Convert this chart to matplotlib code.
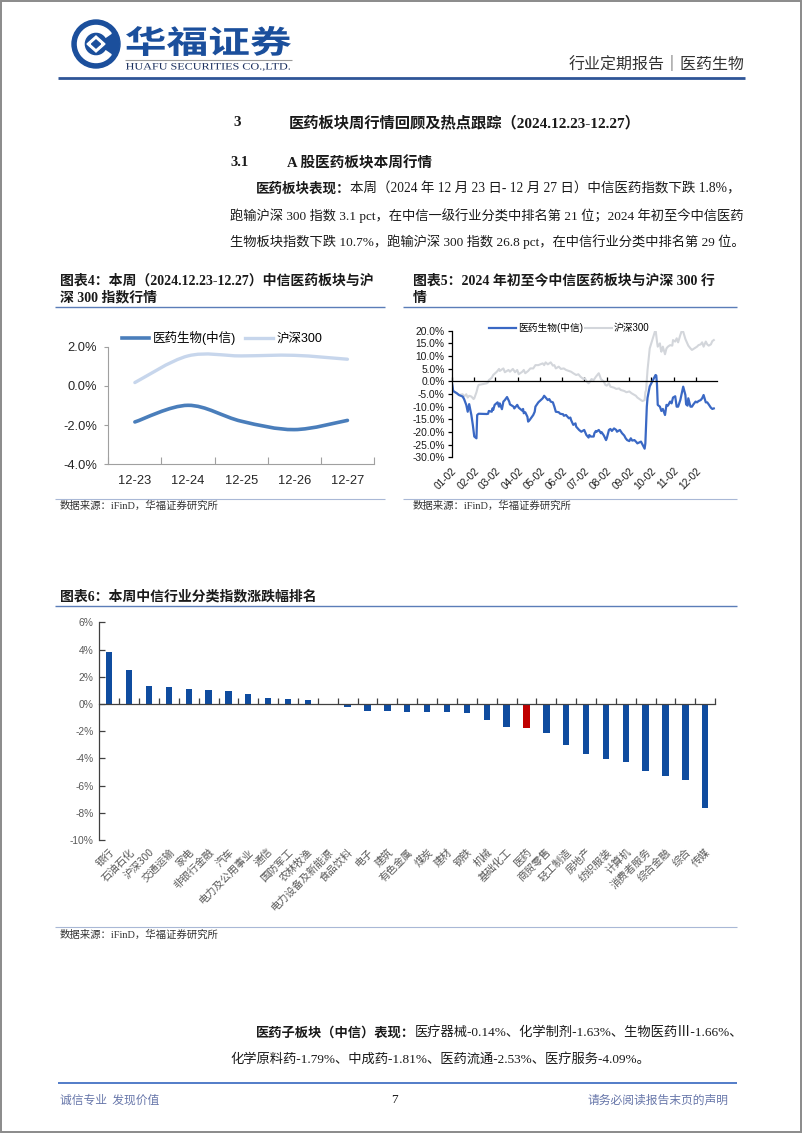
import matplotlib
matplotlib.use('Agg')
import matplotlib.pyplot as plt
import matplotlib.dates as mdates
import numpy as np
import pandas as pd
from matplotlib.patches import Circle, Wedge, Polygon, Rectangle, PathPatch
from matplotlib.textpath import TextPath
from matplotlib.font_manager import FontProperties
from matplotlib.transforms import Affine2D
from matplotlib.path import Path
from matplotlib.lines import Line2D
from matplotlib.ticker import FuncFormatter

W, H = 802, 1133
SANS = ['Liberation Sans', 'Noto Sans CJK SC']
SERIF = ['Liberation Serif', 'Noto Sans CJK SC']
CJK = ['Noto Sans CJK SC', 'DejaVu Sans']
plt.rcParams['font.family'] = SANS
plt.rcParams['axes.unicode_minus'] = False

# ---------------- data ----------------
week_days = ['12-23', '12-24', '12-25', '12-26', '12-27']
week_med = [-1.84, -0.99, -1.80, -2.23, -1.76]
week_hs300 = [0.17, 1.53, 1.53, 1.56, 1.36]
week_names = ['医药生物(中信)', '沪深300']

ytd_med_dates = ['01-02', '01-04', '01-09', '01-12', '01-17', '01-19', '01-22', '01-24', '01-26', '01-29',
                 '01-31', '02-02', '02-05', '02-06', '02-08', '02-19', '02-21', '02-22', '02-26', '02-27',
                 '02-28', '03-01', '03-05', '03-07', '03-08', '03-11', '03-13', '03-15', '03-18', '03-21',
                 '03-22', '03-27', '03-28', '04-01', '04-03', '04-08', '04-09', '04-10', '04-12', '04-15',
                 '04-16', '04-18', '04-19', '04-23', '04-25', '04-26', '04-30', '05-06', '05-08', '05-10',
                 '05-13', '05-15', '05-17', '05-20', '05-22', '05-24', '05-28', '05-30', '06-03', '06-04',
                 '06-07', '06-11', '06-13', '06-14', '06-17', '06-20', '06-21', '06-25', '06-28', '07-02',
                 '07-05', '07-08', '07-09', '07-11', '07-15', '07-16', '07-18', '07-19', '07-22', '07-25',
                 '07-26', '07-29', '08-01', '08-02', '08-05', '08-07', '08-09', '08-12', '08-15', '08-16',
                 '08-20', '08-23', '08-26', '08-28', '08-30', '09-02', '09-04', '09-06', '09-09', '09-12',
                 '09-13', '09-18', '09-20', '09-23', '09-24', '09-25', '09-26', '09-27', '09-30', '10-08',
                 '10-09', '10-10', '10-11', '10-14', '10-16', '10-18', '10-21', '10-23', '10-25', '10-28',
                 '10-30', '11-01', '11-04', '11-06', '11-08', '11-11', '11-13', '11-15', '11-18', '11-19',
                 '11-21', '11-22', '11-25', '11-27', '11-29', '12-02', '12-04', '12-06', '12-09', '12-11',
                 '12-13', '12-16', '12-18', '12-20', '12-23', '12-25', '12-27']
ytd_med = [0.0, -3.8, -4.7, -5.4, -6.0, -7.0, -9.3, -12.0, -9.0, -13.3,
           -17.2, -21.8, -22.5, -13.3, -12.8, -12.9, -12.8, -11.7, -12.0, -10.7,
           -11.3, -9.3, -8.3, -10.0, -8.7, -11.0, -8.0, -7.4, -6.2, -8.0,
           -9.1, -10.0, -10.7, -9.3, -10.4, -11.6, -10.9, -12.6, -12.2, -14.0,
           -15.9, -15.3, -14.9, -13.3, -12.0, -10.0, -8.3, -6.7, -5.7, -6.4,
           -7.4, -7.0, -8.0, -8.3, -10.0, -12.0, -12.2, -12.8, -13.0, -13.6,
           -13.3, -14.6, -14.3, -15.3, -17.2, -16.6, -17.9, -19.2, -19.9, -19.2,
           -21.2, -22.2, -21.2, -21.8, -21.8, -20.5, -19.6, -19.9, -19.2, -20.5,
           -20.1, -21.4, -23.2, -22.5, -19.2, -18.8, -19.6, -18.6, -19.2, -19.9,
           -19.2, -20.5, -21.4, -22.5, -23.2, -23.6, -22.5, -23.4, -23.2, -24.1,
           -24.5, -23.8, -24.9, -26.6, -24.5, -17.0, -10.0, -6.5, -2.0, 2.5,
           2.3, -1.4, -9.3, -10.0, -11.7, -10.9, -13.3, -9.3, -9.6, -8.0,
           -8.7, -6.4, -5.9, -10.0, -10.0, -7.4, -4.7, -2.1, -5.4, -9.1,
           -9.6, -6.7, -10.0, -10.0, -9.1, -8.0, -8.3, -7.8, -7.4, -6.7,
           -5.4, -8.3, -8.3, -9.1, -10.4, -10.9, -10.7]

ytd_hs_dates = ['01-02', '01-04', '01-09', '01-12', '01-17', '01-19', '01-22', '01-24', '01-26', '01-29',
                '02-01', '02-02', '02-05', '02-07', '02-08', '02-19', '02-21', '02-22', '02-26', '02-28',
                '03-04', '03-07', '03-08', '03-13', '03-15', '03-20', '03-22', '03-26', '03-29', '04-01',
                '04-03', '04-08', '04-10', '04-12', '04-16', '04-19', '04-23', '04-26', '04-30', '05-06',
                '05-08', '05-10', '05-13', '05-17', '05-20', '05-22', '05-24', '05-28', '05-31', '06-04',
                '06-07', '06-11', '06-14', '06-17', '06-21', '06-24', '06-27', '07-01', '07-03', '07-05',
                '07-08', '07-10', '07-12', '07-15', '07-18', '07-22', '07-23', '07-25', '07-29', '07-31',
                '08-02', '08-05', '08-07', '08-12', '08-15', '08-19', '08-21', '08-26', '08-29', '09-02',
                '09-05', '09-09', '09-11', '09-13', '09-18', '09-20', '09-23', '09-24', '09-25', '09-26',
                '09-27', '09-30', '10-08', '10-09', '10-10', '10-11', '10-14', '10-15', '10-16', '10-18',
                '10-21', '10-23', '10-25', '10-28', '10-31', '11-01', '11-04', '11-06', '11-08', '11-11',
                '11-13', '11-15', '11-18', '11-20', '11-22', '11-25', '11-27', '12-02', '12-04', '12-06',
                '12-09', '12-11', '12-13', '12-16', '12-18', '12-20', '12-23', '12-25', '12-27']
ytd_hs = [0.0, -4.0, -4.7, -5.4, -5.1, -6.0, -5.1, -6.4, -5.7, -6.0,
          -7.0, -6.7, -4.3, -2.1, -1.4, -0.8, -0.4, 0.5, 1.4, 2.5,
          3.8, 4.9, 4.1, 5.1, 3.6, 4.5, 3.8, 4.9, 3.6, 4.5,
          2.8, 3.8, 4.5, 3.2, 4.1, 5.1, 5.1, 6.4, 6.4, 7.1,
          6.4, 7.5, 6.7, 7.5, 6.2, 6.4, 5.1, 5.8, 4.9, 5.1,
          4.5, 4.1, 3.8, 3.2, 2.5, 2.8, 1.8, 0.9, 1.2, 0.1,
          -0.8, -0.1, 0.9, 0.5, 1.8, 3.2, 2.5, 0.9, -0.1, -1.4,
          -1.7, -0.8, -2.1, -2.5, -3.0, -2.8, -3.4, -3.8, -4.3, -4.0,
          -4.7, -5.4, -5.7, -6.4, -7.4, -7.8, -7.4, -4.3, -3.5, 0.5,
          4.5, 13.0, 20.5, 18.0, 15.7, 13.7, 15.0, 13.0, 11.7, 13.7,
          10.7, 13.0, 13.7, 14.3, 14.1, 16.3, 15.7, 17.0, 15.4, 18.3,
          19.9, 19.6, 16.7, 15.4, 14.1, 13.0, 12.4, 13.3, 13.7, 14.3,
          14.6, 15.4, 13.7, 15.7, 14.6, 14.1, 14.6, 15.9, 16.3]
ytd_tick_days = ['01-02', '02-02', '03-02', '04-02', '05-02', '06-02',
                 '07-02', '08-02', '09-02', '10-02', '11-02', '12-02']

ind_names = ['银行', '石油石化', '沪深300', '交通运输', '家电', '非银行金融', '汽车', '电力及公用事业',
             '通信', '国防军工', '农林牧渔', '电力设备及新能源', '食品饮料', '电子', '建筑', '有色金属',
             '煤炭', '建材', '钢铁', '机械', '基础化工', '医药', '商贸零售', '轻工制造', '房地产',
             '纺织服装', '计算机', '消费者服务', '综合金融', '综合', '传媒']
ind_chg = [3.85, 2.50, 1.35, 1.22, 1.10, 1.05, 0.98, 0.74, 0.47, 0.34, 0.27, -0.02, -0.25, -0.49,
           -0.54, -0.56, -0.61, -0.61, -0.66, -1.15, -1.69, -1.78, -2.13, -3.01, -3.68, -4.02,
           -4.24, -4.93, -5.32, -5.61, -7.62]
highlight = '医药'

# ---------------- figure / page ----------------
fig = plt.figure(figsize=(W / 100, H / 100), dpi=100)
page = fig.add_axes([0, 0, 1, 1])
page.set_xlim(0, W)
page.set_ylim(H, 0)
page.axis('off')
renderer = fig.canvas.get_renderer()


def rect(x0, y0, x1, y1):
    return [x0 / W, 1 - y1 / H, (x1 - x0) / W, (y1 - y0) / H]


def hline(y, x0, x1, color, lw):
    page.plot([x0, x1], [y, y], color=color, lw=lw, solid_capstyle='butt')


def stretched_text(s, x0, y0, x1, y1, prop, color):
    tp = TextPath((0, 0), s, size=1, prop=prop)
    ext = tp.get_extents()
    tr = (Affine2D().translate(-ext.x0, -ext.y0)
          .scale((x1 - x0) / ext.width, -(y1 - y0) / ext.height)
          .translate(x0, y1))
    page.add_patch(PathPatch(tr.transform_path(tp), fc=color, ec='none'))


# page frame
page.add_patch(Rectangle((0.8, 0.8), W - 1.6, H - 1.6, fill=False, ec='#8a8a8a', lw=1.4))

# logo
BLUE_LOGO = '#1B4F9C'
cx, cy = 96, 44
page.add_patch(Circle((cx, cy), 24, color=BLUE_LOGO))
page.add_patch(Wedge((cx, cy), 18.5, 35, 325, width=6.5, color='white'))
page.add_patch(Polygon([[cx - 9, cy], [cx, cy - 8], [cx + 9, cy], [cx, cy + 8]], color='white'))
page.add_patch(Polygon([[cx - 4.5, cy], [cx, cy - 4], [cx + 4.5, cy], [cx, cy + 4]], color=BLUE_LOGO))
stretched_text('华福证券', 126, 26, 291, 56,
               FontProperties(family='Noto Sans CJK SC', weight='bold'), BLUE_LOGO)
hline(59.5, 125, 292, '#9a9a9a', 0.8)
stretched_text('HUAFU SECURITIES CO.,LTD.', 126, 63, 290, 71,
               FontProperties(family='Liberation Serif'), '#1a2f5e')
page.text(745, 64, '行业定期报告｜医药生物', fontsize=11.5, family=CJK, color='#333333',
          ha='right', va='center')
hline(77.5, 58, 745, '#2F5597', 2.0)

TXT = '#1a1a1a'
# section headings
page.text(233, 123, '3', fontsize=11, weight='bold', family=SERIF, color=TXT, va='center')
page.text(289, 123, '医药板块周行情回顾及热点跟踪（2024.12.23-12.27）', fontsize=11, weight='bold',
          family=SERIF, color=TXT, va='center')
page.text(230, 163, '3.1', fontsize=10.5, weight='bold', family=SERIF, color=TXT, va='center')
page.text(287, 163, 'A 股医药板块本周行情', fontsize=10.5, weight='bold', family=SERIF, color=TXT,
          va='center')


def para_line(x, y, bold, rest, x_end=None, size=10.0):
    """Draw a paragraph line; if x_end is given, scale the font so the line ends there."""
    def draw(sz):
        arts = []
        xe = x
        if bold:
            t = page.text(x, y, bold, fontsize=sz, weight='bold', family=SERIF, color=TXT, va='center')
            arts.append(t)
            xe = t.get_window_extent(renderer=renderer).x1
        t2 = page.text(xe, y, rest, fontsize=sz, family=SERIF, color=TXT, va='center')
        arts.append(t2)
        return arts, t2.get_window_extent(renderer=renderer).x1

    arts, end = draw(size)
    if x_end is not None:
        new = size * (x_end - x) / (end - x)
        for a in arts:
            a.remove()
        arts, end = draw(new)
        size = new
    return size


para_line(256, 189, '医药板块表现：', '本周（2024 年 12 月 23 日- 12 月 27 日）中信医药指数下跌 1.8%，', 743)
para_line(230, 216, '', '跑输沪深 300 指数 3.1 pct，在中信一级行业分类中排名第 21 位；2024 年初至今中信医药', 744)
para_line(230, 242, '', '生物板块指数下跌 10.7%，跑输沪深 300 指数 26.8 pct，在中信行业分类中排名第 29 位。', 744)

# chart titles / sources
TITLE_LINE = '#5B7DB8'
page.text(60, 281, '图表4：本周（2024.12.23-12.27）中信医药板块与沪', fontsize=10, weight='bold',
          family=SERIF, color=TXT, va='center')
page.text(60, 298, '深 300 指数行情', fontsize=10, weight='bold', family=SERIF, color=TXT, va='center')
hline(306.5, 55, 385, TITLE_LINE, 1.0)
page.text(413, 281, '图表5：2024 年初至今中信医药板块与沪深 300 行', fontsize=10, weight='bold',
          family=SERIF, color=TXT, va='center')
page.text(413, 298, '情', fontsize=10, weight='bold', family=SERIF, color=TXT, va='center')
hline(306.5, 403, 737, TITLE_LINE, 1.0)

SRC_LINE = '#A9B8D6'
hline(499, 55, 385, SRC_LINE, 0.8)
hline(499, 403, 737, SRC_LINE, 0.8)
page.text(60, 506, '数据来源：iFinD，华福证券研究所', fontsize=7.5, family=SERIF, color='#333333',
          va='center')
page.text(413, 506, '数据来源：iFinD，华福证券研究所', fontsize=7.5, family=SERIF, color='#333333',
          va='center')

page.text(60, 597, '图表6：本周中信行业分类指数涨跌幅排名', fontsize=10, weight='bold', family=SERIF,
          color=TXT, va='center')
hline(606, 55, 737, TITLE_LINE, 1.0)
hline(927, 55, 737, SRC_LINE, 0.8)
page.text(60, 935, '数据来源：iFinD，华福证券研究所', fontsize=7.5, family=SERIF, color='#333333',
          va='center')

# bottom paragraph
sz = para_line(256, 1033, '医药子板块（中信）表现：', '医疗器械-0.14%、化学制剂-1.63%、生物医药Ⅲ-1.66%、', 744)
para_line(230, 1059, '', '化学原料药-1.79%、中成药-1.81%、医药流通-2.53%、医疗服务-4.09%。', None, sz)

# footer
hline(1083, 58, 737, '#4472C4', 1.3)
FOOT = '#6877AA'
page.text(60, 1100, '诚信专业  发现价值', fontsize=8.5, family=CJK, color=FOOT, va='center')
page.text(394, 1100, '7', fontsize=9.5, family=SERIF, color=TXT, va='center', ha='center')
page.text(729, 1100, '请务必阅读报告末页的声明', fontsize=8.5, family=CJK, color=FOOT, va='center',
          ha='right')


# ---------------- chart 4 ----------------
def smooth_path(xs, ys):
    pts = np.column_stack([xs, ys]).astype(float)
    n = len(pts)
    verts = [pts[0]]
    codes = [Path.MOVETO]
    for i in range(n - 1):
        p0 = pts[i - 1] if i > 0 else pts[i]
        p1, p2 = pts[i], pts[i + 1]
        p3 = pts[i + 2] if i + 2 < n else pts[i + 1]
        verts += [p1 + (p2 - p0) / 6, p2 - (p3 - p1) / 6, p2]
        codes += [Path.CURVE4] * 3
    return Path(verts, codes)


C4_MED, C4_HS = '#4A7EBB', '#C7D6EC'
ax4 = fig.add_axes(rect(108.3, 346.7, 374, 464.3))
xw = np.arange(len(week_days))
ax4.add_patch(PathPatch(smooth_path(xw, week_hs300), fill=False, ec=C4_HS, lw=2.4, capstyle='round'))
ax4.add_patch(PathPatch(smooth_path(xw, week_med), fill=False, ec=C4_MED, lw=2.6, capstyle='round'))
ax4.set_xlim(-0.5, len(week_days) - 0.5)
ax4.set_ylim(-4, 2)
ax4.set_yticks([-4, -2, 0, 2])
ax4.yaxis.set_major_formatter(FuncFormatter(lambda v, p: f'{v:.1f}%'))
ax4.set_xticks(xw, week_days)
ax4.set_xticks(np.arange(-0.5, len(week_days), 1), minor=True)
ax4.tick_params(axis='x', which='major', length=0, pad=8, labelsize=9.3, labelcolor='#262626')
ax4.tick_params(axis='x', which='minor', length=5, direction='in', color='#A0A0A0', width=0.8)
ax4.tick_params(axis='y', length=3, direction='out', color='#A0A0A0', width=0.8, pad=5,
                labelsize=9.3, labelcolor='#262626')
for s in ['top', 'right']:
    ax4.spines[s].set_visible(False)
for s in ['left', 'bottom']:
    ax4.spines[s].set_color('#A0A0A0')
    ax4.spines[s].set_linewidth(0.8)
ax4.patch.set_alpha(0)
h4 = [Line2D([], [], color=C4_MED, lw=2.6), Line2D([], [], color=C4_HS, lw=2.4)]
ax4.legend(h4, week_names, loc='center', bbox_to_anchor=(222 / W, 1 - 338 / H),
           bbox_transform=fig.transFigure, ncol=2, frameon=False, fontsize=9, handlelength=2.2,
           handletextpad=0.3, columnspacing=0.7, borderpad=0)

# ---------------- chart 5 ----------------
C5_MED, C5_HS = '#3A68C4', '#D3D6DB'
ax5 = fig.add_axes(rect(451.7, 330.7, 716.7, 457.3))
dm = pd.to_datetime(['2024-' + d for d in ytd_med_dates])
dh = pd.to_datetime(['2024-' + d for d in ytd_hs_dates])
ax5.plot(dh, ytd_hs, color=C5_HS, lw=1.5)
ax5.plot(dm, ytd_med, color=C5_MED, lw=1.6)
ax5.set_xlim(pd.Timestamp('2024-01-02'), pd.Timestamp('2024-12-31'))
ax5.set_ylim(-30, 20)
ax5.set_yticks(np.arange(-30, 21, 5))
ax5.yaxis.set_major_formatter(FuncFormatter(lambda v, p: f'{v:.1f}%'))
tick_dates = mdates.date2num(pd.to_datetime(['2024-' + d for d in ytd_tick_days]))
ax5.set_xticks(tick_dates)
ax5.tick_params(axis='x', length=3, direction='in', color='black', width=0.9, labelbottom=False)
ax5.tick_params(axis='y', length=3, direction='out', color='black', width=0.9, pad=2,
                labelsize=7.4, labelcolor='#1a1a1a')
ax5.spines['bottom'].set_position(('data', 0))
for s in ['top', 'right']:
    ax5.spines[s].set_visible(False)
for s in ['left', 'bottom']:
    ax5.spines[s].set_color('black')
    ax5.spines[s].set_linewidth(0.9)
ax5.patch.set_alpha(0)
sec5 = ax5.secondary_xaxis('bottom')
sec5.set_xticks(tick_dates, ytd_tick_days, rotation=45, ha='right', rotation_mode='anchor')
sec5.tick_params(length=0, pad=6, labelsize=7.3, labelcolor='#1a1a1a')
sec5.spines['bottom'].set_visible(False)
h5 = [Line2D([], [], color=C5_MED, lw=1.6), Line2D([], [], color=C5_HS, lw=1.5)]
ax5.legend(h5, week_names, loc='center', bbox_to_anchor=(569 / W, 1 - 328 / H),
           bbox_transform=fig.transFigure, ncol=2, frameon=False, fontsize=7, handlelength=2.8,
           handletextpad=0.15, columnspacing=0.2, borderpad=0)

# ---------------- chart 6 ----------------
ax6 = fig.add_axes(rect(99.3, 622.3, 715.2, 840))
xi = np.arange(len(ind_names))
bar_colors = ['#C00000' if n == highlight else '#0F4C9F' for n in ind_names]
ax6.bar(xi, ind_chg, width=0.32, color=bar_colors)
ax6.set_xlim(-0.5, len(ind_names) - 0.5)
ax6.set_ylim(-10, 6)
ax6.set_yticks(np.arange(-10, 7, 2))
ax6.yaxis.set_major_formatter(FuncFormatter(lambda v, p: f'{int(round(v))}%'))
ax6.set_xticks(xi)
ax6.set_xticks(np.arange(0.5, len(ind_names), 1), minor=True)
ax6.tick_params(axis='x', which='major', length=0, labelbottom=False)
ax6.tick_params(axis='x', which='minor', length=4, direction='in', color='#404040', width=0.9)
ax6.tick_params(axis='y', length=4, direction='in', color='#404040', width=0.9, pad=4,
                labelsize=7.4, labelcolor='#595959')
ax6.spines['bottom'].set_position(('data', 0))
for s in ['top', 'right']:
    ax6.spines[s].set_visible(False)
for s in ['left', 'bottom']:
    ax6.spines[s].set_color('#404040')
    ax6.spines[s].set_linewidth(0.9)
ax6.patch.set_alpha(0)
sec6 = ax6.secondary_xaxis('bottom')
sec6.set_xticks(xi, ind_names, rotation=45, ha='right', rotation_mode='anchor', family=CJK)
sec6.tick_params(length=0, pad=5, labelsize=7.5, labelcolor='#595959')
sec6.spines['bottom'].set_visible(False)

fig.savefig('out.png', dpi=100)
